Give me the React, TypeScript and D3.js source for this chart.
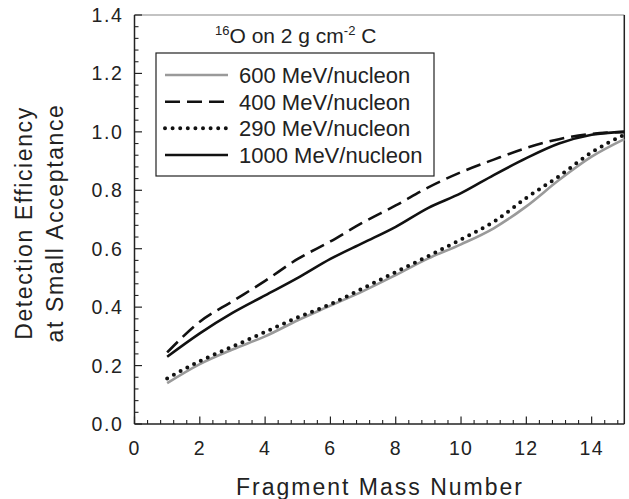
import React from "react";
import * as d3 from "d3";

const massNumbers = [1, 2, 3, 4, 5, 6, 7, 8, 9, 10, 11, 12, 13, 14, 15];
const eff600 = [0.14, 0.205, 0.255, 0.3, 0.355, 0.405, 0.455, 0.51, 0.567, 0.615, 0.67, 0.745, 0.835, 0.915, 0.975];
const eff400 = [0.245, 0.35, 0.42, 0.49, 0.565, 0.625, 0.69, 0.748, 0.81, 0.862, 0.905, 0.945, 0.975, 0.993, 1.0];
const eff290 = [0.156, 0.215, 0.265, 0.315, 0.365, 0.41, 0.465, 0.52, 0.575, 0.632, 0.692, 0.774, 0.848, 0.93, 0.99];
const eff1000 = [0.23, 0.31, 0.38, 0.44, 0.5, 0.565, 0.62, 0.675, 0.74, 0.79, 0.852, 0.91, 0.96, 0.99, 1.0];

const seriesLabels = ["600 MeV/nucleon", "400 MeV/nucleon", "290 MeV/nucleon", "1000 MeV/nucleon"];
const xTicks = [0, 2, 4, 6, 8, 10, 12, 14];
const yTicks = [0, 0.2, 0.4, 0.6, 0.8, 1.0, 1.2, 1.4];

const FONT = "'Liberation Sans', Arial, Helvetica, sans-serif";

const styles = [
  { stroke: "#9a9a9a", width: 2.6, dash: undefined as string | undefined, cap: "butt" },
  { stroke: "#111", width: 2.6, dash: "15 7", cap: "butt" },
  { stroke: "#111", width: 4, dash: "0 7.6", cap: "round" },
  { stroke: "#111", width: 2.6, dash: undefined as string | undefined, cap: "butt" },
];

export default function App() {
  const W = 629, H = 499;
  const left = 134.5, right = 624.3, top = 15, bottom = 424;
  const x = d3.scaleLinear().domain([0, 15]).range([left, right]);
  const y = d3.scaleLinear().domain([0, 1.4]).range([bottom, top]);

  const series = [eff600, eff400, eff290, eff1000];
  const line = d3
    .line<number>()
    .x((_, i) => x(massNumbers[i]))
    .y((d) => y(d))
    .curve(d3.curveMonotoneX);

  const xMinor = d3.range(0, 15.001, 0.4).filter((v) => Math.abs(v / 2 - Math.round(v / 2)) > 1e-6 && v < 15);
  const yMinor = d3.range(0, 1.4001, 0.04).filter((v) => Math.abs(v / 0.2 - Math.round(v / 0.2)) > 1e-6);

  const legendRows = [75, 101.7, 128.3, 155];

  return (
    <svg width={W} height={H} style={{ position: "absolute", left: 0, top: 0, background: "#fff" }}>
      <rect x={0} y={0} width={W} height={H} fill="#fff" />
      {/* frame */}
      <line x1={left} x2={right} y1={top} y2={top} stroke="#888" strokeWidth={1.2} />
      <line x1={right} x2={right} y1={top} y2={bottom} stroke="#222" strokeWidth={1.5} />
      <line x1={left} x2={left} y1={top} y2={bottom} stroke="#222" strokeWidth={1.5} />
      <line x1={left} x2={right} y1={bottom} y2={bottom} stroke="#222" strokeWidth={1.5} />

      {/* x ticks */}
      {xTicks.map((t) => (
        <g key={"xt" + t}>
          <line x1={x(t)} x2={x(t)} y1={bottom} y2={bottom - 7.5} stroke="#222" strokeWidth={1.2} />
          <text x={x(t)} y={455} textAnchor="middle" fontFamily={FONT} fontSize={19.5} letterSpacing={1.3} fill="#222">
            {t}
          </text>
        </g>
      ))}
      {xMinor.map((t) => (
        <line key={"xm" + t} x1={x(t)} x2={x(t)} y1={bottom} y2={bottom - 4} stroke="#222" strokeWidth={1.1} />
      ))}

      {/* y ticks */}
      {yTicks.map((t) => (
        <g key={"yt" + t}>
          <line x1={left} x2={left + 7.5} y1={y(t)} y2={y(t)} stroke="#222" strokeWidth={1.2} />
          <text x={123.5} y={y(t) + 7} textAnchor="end" fontFamily={FONT} fontSize={19.5} letterSpacing={1.6} fill="#222">
            {t.toFixed(1)}
          </text>
        </g>
      ))}
      {yMinor.map((t) => (
        <line key={"ym" + t} x1={left} x2={left + 4} y1={y(t)} y2={y(t)} stroke="#222" strokeWidth={1.1} />
      ))}

      {/* series */}
      {series.map((s, i) => (
        <path
          key={"s" + i}
          d={line(s) || ""}
          fill="none"
          stroke={styles[i].stroke}
          strokeWidth={styles[i].width}
          strokeDasharray={styles[i].dash}
          strokeLinecap={styles[i].cap as any}
        />
      ))}

      {/* legend title */}
      <text x={215} y={43} fontFamily={FONT} fontSize={21} fill="#222">
        <tspan fontSize={13} dy={-8}>16</tspan>
        <tspan dy={8}>O on 2 g cm</tspan>
        <tspan fontSize={13} dy={-8}>-2</tspan>
        <tspan dy={8}> C</tspan>
      </text>

      {/* legend box */}
      <rect x={156} y={53} width={278} height={123} fill="#fff" stroke="#222" strokeWidth={1.2} />
      {seriesLabels.map((lab, i) => (
        <g key={"lg" + i}>
          <line
            x1={165}
            x2={228}
            y1={legendRows[i]}
            y2={legendRows[i]}
            stroke={styles[i].stroke}
            strokeWidth={styles[i].width}
            strokeDasharray={styles[i].dash}
            strokeLinecap={styles[i].cap as any}
          />
          <text x={239} y={legendRows[i] + 8} fontFamily={FONT} fontSize={22} fill="#222">
            {lab}
          </text>
        </g>
      ))}

      {/* axis titles */}
      <text x={380} y={495} textAnchor="middle" fontFamily={FONT} fontSize={23} letterSpacing={2} fill="#222">
        Fragment Mass Number
      </text>
      <text transform="translate(32,223) rotate(-90)" textAnchor="middle" fontFamily={FONT} fontSize={23} letterSpacing={1.6} fill="#222">
        Detection Efficiency
      </text>
      <text transform="translate(63,223) rotate(-90)" textAnchor="middle" fontFamily={FONT} fontSize={23} letterSpacing={1.6} fill="#222">
        at Small Acceptance
      </text>
    </svg>
  );
}
